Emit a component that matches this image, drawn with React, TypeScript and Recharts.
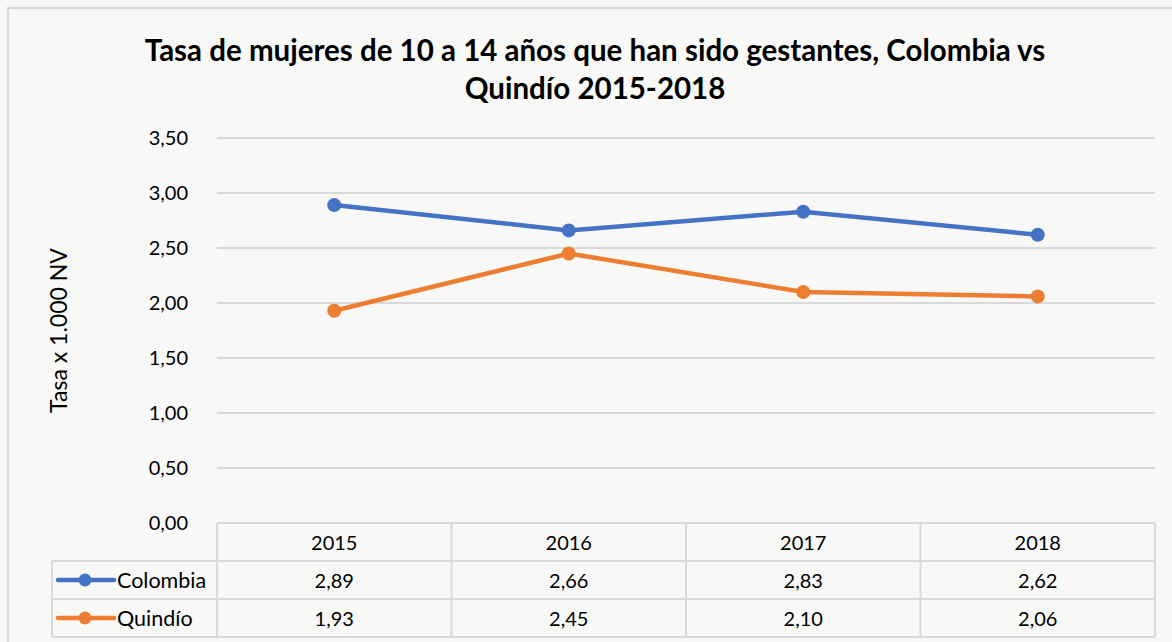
import React from "react"
import { LineChart, Line, XAxis, YAxis, CartesianGrid } from "recharts"

const years = ["2015", "2016", "2017", "2018"]
const colombia = [2.89, 2.66, 2.83, 2.62]
const quindio = [1.93, 2.45, 2.1, 2.06]
const yTicks = [0, 0.5, 1, 1.5, 2, 2.5, 3, 3.5]

const seriesInfo = [
  { key: "colombia", name: "Colombia", color: "#4472C4", values: colombia },
  { key: "quindio", name: "Quindío", color: "#ED7D31", values: quindio },
]

const data = years.map((y, i) => ({ year: y, colombia: colombia[i], quindio: quindio[i] }))

const W = 1172
const H = 642
const PLOT_LEFT = 217
const PLOT_RIGHT = 1155
const PLOT_TOP = 138
const PLOT_BOTTOM = 523
const COL_W = (PLOT_RIGHT - PLOT_LEFT) / years.length
const ROW_H = 38
const FONT = "Lato, 'Open Sans', sans-serif"
const GRID = "#d9d9d9"

const fmt = (v: number) => v.toFixed(2).replace(".", ",")

// the data table under the axis is drawn as the category tick
function TableTick(props: any) {
  const { x, payload, index } = props
  const top = PLOT_BOTTOM
  const left = x - COL_W / 2
  const right = x + COL_W / 2
  return (
    <g>
      <line x1={left} x2={right} y1={top} y2={top} stroke={GRID} strokeWidth={2} />
      <line x1={right} x2={right} y1={top} y2={top + ROW_H * 3} stroke={GRID} strokeWidth={2} />
      {index === 0 && <line x1={left} x2={left} y1={top} y2={top + ROW_H * 3} stroke={GRID} strokeWidth={2} />}
      <line x1={left} x2={right} y1={top + ROW_H} y2={top + ROW_H} stroke={GRID} strokeWidth={2} />
      <line x1={left} x2={right} y1={top + ROW_H * 2} y2={top + ROW_H * 2} stroke={GRID} strokeWidth={2} />
      <line x1={left} x2={right} y1={top + ROW_H * 3} y2={top + ROW_H * 3} stroke={GRID} strokeWidth={2} />
      <text x={x} y={top + ROW_H / 2} textAnchor="middle" dominantBaseline="central" fontSize={20} fill="#000" fontFamily={FONT}>
        {payload.value}
      </text>
      {seriesInfo.map((s, r) => (
        <text key={s.key} x={x} y={top + ROW_H * (r + 1.5)} textAnchor="middle" dominantBaseline="central" fontSize={20} fill="#000" fontFamily={FONT}>
          {fmt(s.values[index])}
        </text>
      ))}
      {index === 0 && (
        <g>
          <line x1={52} x2={left} y1={top + ROW_H} y2={top + ROW_H} stroke={GRID} strokeWidth={2} />
          <line x1={52} x2={left} y1={top + ROW_H * 2} y2={top + ROW_H * 2} stroke={GRID} strokeWidth={2} />
          <line x1={52} x2={left} y1={top + ROW_H * 3} y2={top + ROW_H * 3} stroke={GRID} strokeWidth={2} />
          <line x1={52} x2={52} y1={top + ROW_H} y2={top + ROW_H * 3} stroke={GRID} strokeWidth={2} />
          {seriesInfo.map((s, r) => {
            const cy = top + ROW_H * (r + 1.5)
            return (
              <g key={s.key}>
                <line x1={58} x2={114} y1={cy} y2={cy} stroke={s.color} strokeWidth={4.5} strokeLinecap="round" />
                <circle cx={85} cy={cy} r={6.5} fill={s.color} />
                <text x={117} y={cy} dominantBaseline="central" fontSize={21.5} fill="#000" fontFamily={FONT}>
                  {s.name}
                </text>
              </g>
            )
          })}
        </g>
      )}
    </g>
  )
}

export default function App() {
  return (
    <div style={{ position: "absolute", left: 0, top: 0, width: W, height: H, background: "#f8f8f7", overflow: "hidden" }}>
      <div
        style={{
          position: "absolute",
          left: 7,
          top: 7,
          width: W,
          height: H,
          borderLeft: "2px solid #d9d9d9",
          borderTop: "2px solid #d9d9d9",
        }}
      />
      <div
        style={{
          position: "absolute",
          left: 0,
          top: 31,
          width: 1190,
          textAlign: "center",
          fontFamily: FONT,
          fontWeight: 700,
          fontSize: 29.5,
          lineHeight: "38px",
          color: "#000",
        }}
      >
        Tasa de mujeres de 10 a 14 años que han sido gestantes, Colombia vs
        <br />
        Quindío 2015-2018
      </div>
      <div style={{ position: "absolute", left: 0, top: 0 }}>
        <LineChart
          width={W}
          height={H}
          data={data}
          margin={{ top: PLOT_TOP, right: W - PLOT_RIGHT, bottom: 0, left: 0 }}
        >
          <CartesianGrid vertical={false} stroke={GRID} strokeWidth={2} />
          <XAxis
            dataKey="year"
            axisLine={false}
            tickLine={false}
            height={H - PLOT_BOTTOM}
            interval={0}
            padding={{ left: COL_W / 2, right: COL_W / 2 }}
            tick={<TableTick />}
          />
          <YAxis
            domain={[0, 3.5]}
            ticks={yTicks}
            tickFormatter={fmt}
            axisLine={false}
            tickLine={false}
            width={PLOT_LEFT}
            tickMargin={23}
            tick={{ fontSize: 20, fill: "#000", fontFamily: FONT }}
            label={({ viewBox }: any) => (
              <text
                x={0}
                y={0}
                transform={`translate(58, ${viewBox.y + viewBox.height / 2}) rotate(-90)`}
                textAnchor="middle"
                dominantBaseline="central"
                fontSize={23}
                fill="#000"
                fontFamily={FONT}
              >
                Tasa x 1.000 NV
              </text>
            )}
          />
          {seriesInfo.map((s) => (
            <Line
              key={s.key}
              dataKey={s.key}
              name={s.name}
              stroke={s.color}
              strokeWidth={4.5}
              dot={{ r: 7, fill: s.color, stroke: s.color, strokeWidth: 0 }}
              isAnimationActive={false}
            />
          ))}
        </LineChart>
      </div>
    </div>
  )
}
